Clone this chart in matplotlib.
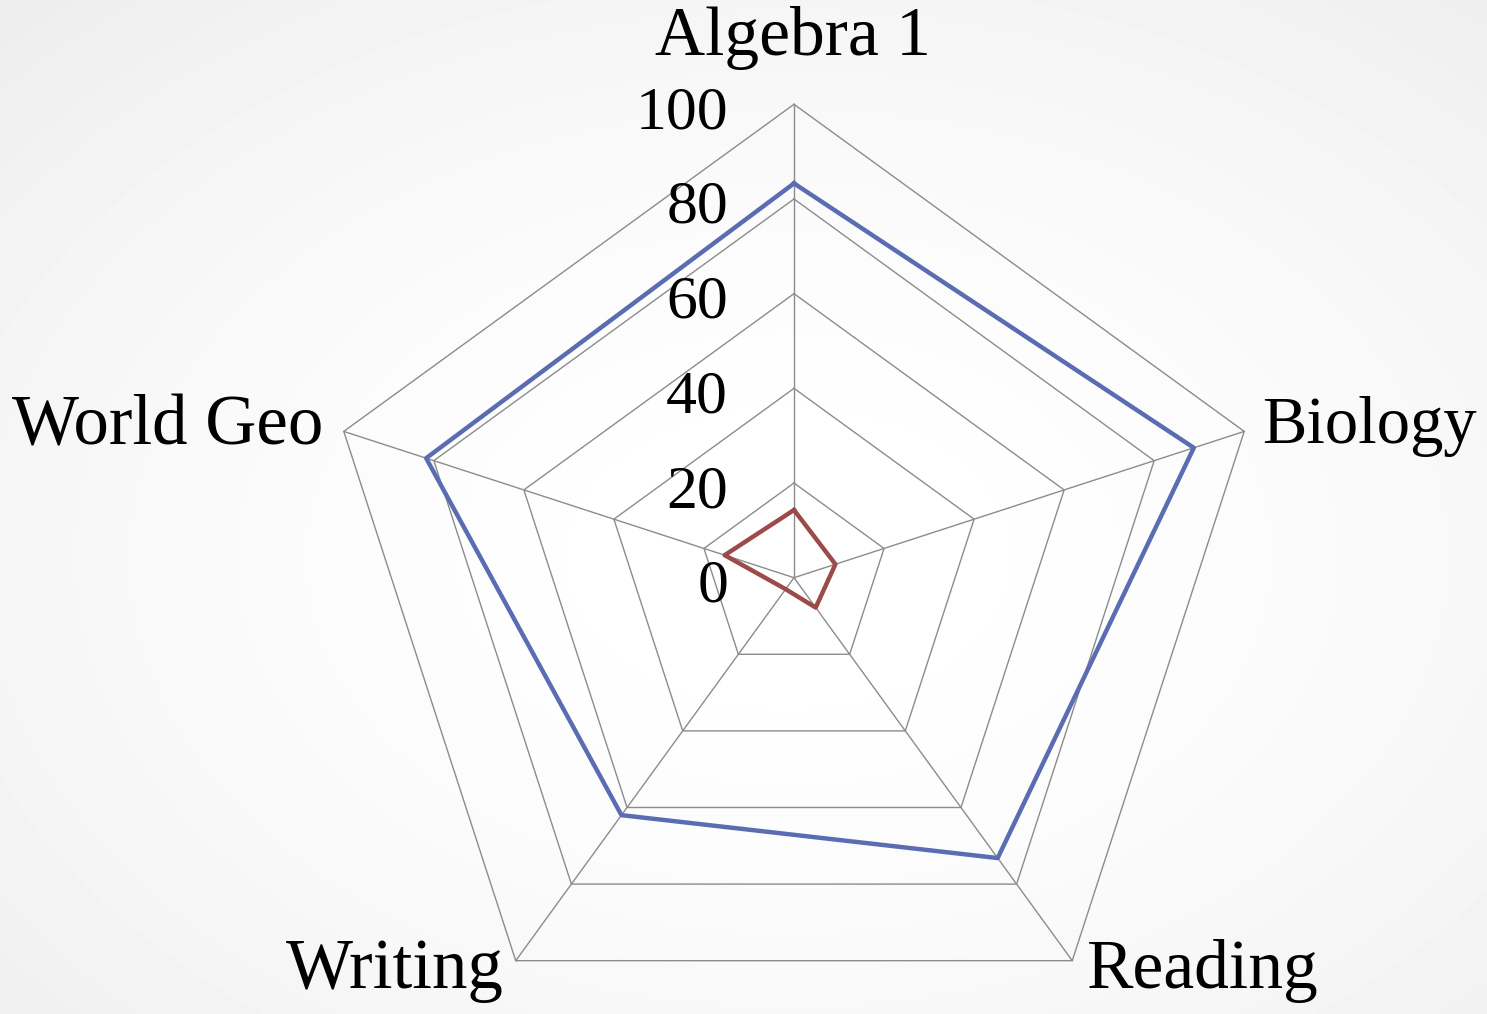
"""Radar chart of test scores by subject."""

import matplotlib.pyplot as plt
import numpy as np

subjects = ["Algebra 1", "Biology", "Reading", "Writing", "World Geo"]
high_scores = [83.3, 88.8, 73.2, 62.0, 81.7]
low_scores = [14.3, 9.2, 7.8, 3.0, 15.4]
r_ticks = [0, 20, 40, 60, 80, 100]

# label offsets from each spoke's tip, in pixels (dx, dy, ha, size)
label_place = {
    "Algebra 1": (-1, 49, "center", 50),
    "Biology": (18, -12, "left", 48),
    "Reading": (15, -27, "left", 50),
    "Writing": (-12, -27, "right", 51),
    "World Geo": (-20, -13, "right", 51),
}

W, H, DPI = 1487, 1014, 100
fig = plt.figure(figsize=(W / DPI, H / DPI), dpi=DPI)

# soft radial background, white in the middle and grey at the corners
bg = fig.add_axes([0, 0, 1, 1])
yy, xx = np.mgrid[0:H, 0:W]
dist = np.hypot((xx - W * 0.53) / W, (yy - H * 0.55) / H) / 0.75
shade = 1.0 - 0.07 * np.clip(dist, 0, 1) ** 1.8
bg.imshow(shade, cmap="gray", vmin=0, vmax=1, aspect="auto",
          extent=[0, 1, 0, 1])
bg.set_axis_off()

cx, cy, R = 794, 1014 - 577.7, 473.4
ax = fig.add_axes([(cx - R) / W, (cy - R) / H, 2 * R / W, 2 * R / H],
                  projection="polar")
ax.set_theta_zero_location("N")
ax.set_theta_direction(-1)
ax.set_ylim(0, 100)
ax.patch.set_alpha(0)
ax.grid(False)
ax.spines["polar"].set_visible(False)
ax.set_xticks([])
ax.set_yticks([])

theta = np.arange(len(subjects)) * 2 * np.pi / len(subjects)
ring = np.append(theta, theta[0])

grid_kw = dict(color="#8c8c8c", lw=1.0, clip_on=False, zorder=1)
for r in r_ticks[1:]:
    ax.plot(ring, [r] * len(ring), **grid_kw)
for t in theta:
    ax.plot([t, t], [0, 100], **grid_kw)

ax.plot(ring, high_scores + high_scores[:1], color="#5a6db3", lw=3.2,
        clip_on=False, zorder=3)
ax.plot(ring, low_scores + low_scores[:1], color="#9c4b4b", lw=3.2,
        clip_on=False, zorder=3)

font = "Liberation Serif"
for r in r_ticks:
    ax.annotate(str(r), (0, r), xytext=(-66, -24), textcoords="offset pixels",
                ha="right", va="baseline", fontsize=44.5, family=font)

for t, name in zip(theta, subjects):
    dx, dy, ha, size = label_place[name]
    ax.annotate(name, (t, 100), xytext=(dx, dy), textcoords="offset pixels",
                ha=ha, va="baseline", fontsize=size, family=font)

fig.savefig("out.png", dpi=DPI)
plt.close()
